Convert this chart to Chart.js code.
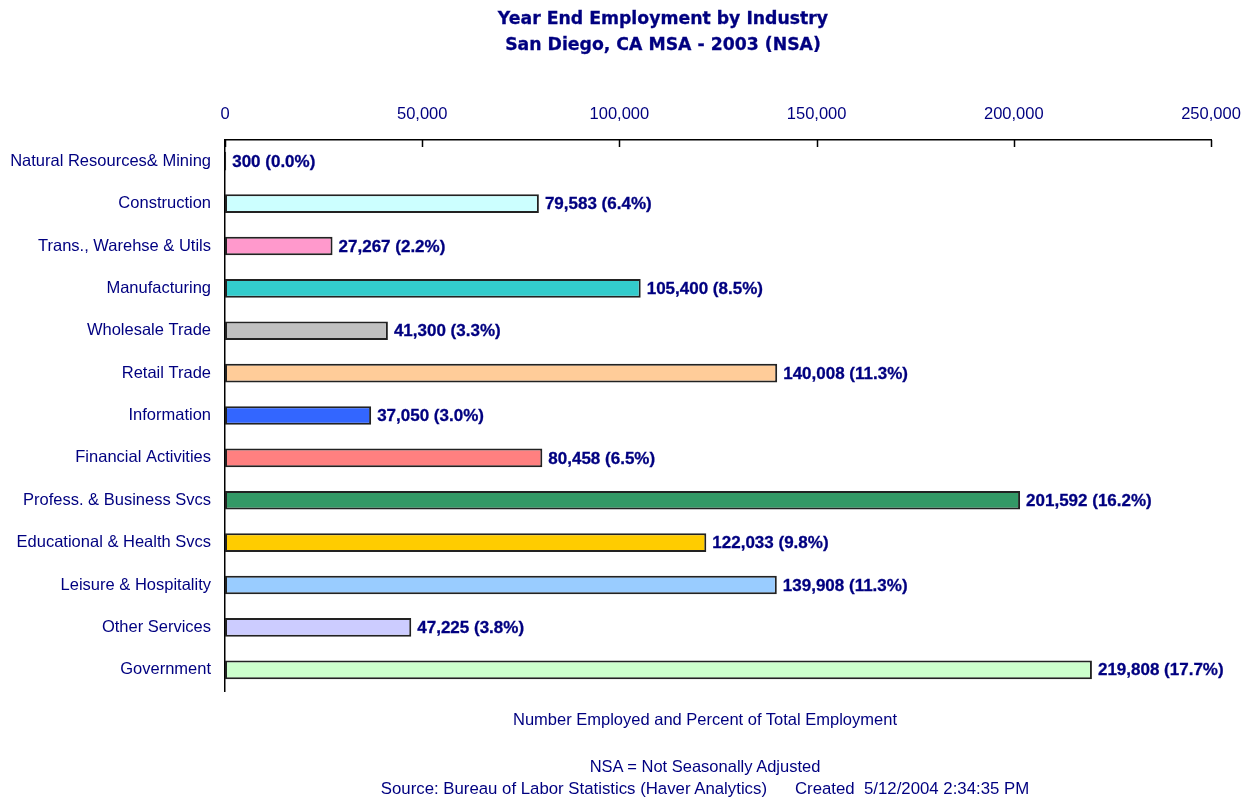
<!DOCTYPE html>
<html>
<head>
<meta charset="utf-8">
<script src="https://cdn.jsdelivr.net/npm/chart.js@4.4.1/dist/chart.umd.min.js"></script>
<style>
  body { margin: 0; background: #fff; }
  #wrap { position: relative; width: 1254px; height: 799px; }
  #chart { position: absolute; left: 0; top: 0; }
  .txt { position: absolute; left: 78px; width: 1254px; text-align: center; color: #000080;
         font-family: "Liberation Sans", Arial, sans-serif; font-size: 16.5px; white-space: pre; }
  .title { font-family: "DejaVu Sans", sans-serif; font-weight: bold; font-size: 17.3px; left: 36px;
           -webkit-text-stroke: 0.3px #000080; }
</style>
</head>
<body>
<div id="wrap">
  <canvas id="chart" width="1254" height="799"></canvas>
  <div class="txt title" style="top:8px">Year End Employment by Industry</div>
  <div class="txt title" style="top:34px">San Diego, CA MSA - 2003 (NSA)</div>
  <div class="txt" style="top:710px">Number Employed and Percent of Total Employment</div>
  <div class="txt" style="top:757px">NSA = Not Seasonally Adjusted</div>
  <div class="txt" style="top:779px; font-size:16.8px">Source: Bureau of Labor Statistics (Haver Analytics)      Created  5/12/2004 2:34:35 PM</div>
</div>
<script>
var industries = ['Natural Resources& Mining', 'Construction', 'Trans., Warehse & Utils', 'Manufacturing',
    'Wholesale Trade', 'Retail Trade', 'Information', 'Financial Activities', 'Profess. & Business Svcs',
    'Educational & Health Svcs', 'Leisure & Hospitality', 'Other Services', 'Government'];
var employed = [300, 79583, 27267, 105400, 41300, 140008, 37050, 80458, 201592, 122033, 139908, 47225, 219808];
var percents = [0.0, 6.4, 2.2, 8.5, 3.3, 11.3, 3.0, 6.5, 16.2, 9.8, 11.3, 3.8, 17.7];
var barColors = ['#9999FF', '#CCFFFF', '#FF99CC', '#33CCCC', '#C0C0C0', '#FFCC99', '#3366FF',
    '#FF8080', '#339966', '#FFCC00', '#99CCFF', '#CCCCFF', '#CCFFCC'];
var xTicks = [0, 50000, 100000, 150000, 200000, 250000];

var navy = '#000080';
var fontName = '"Liberation Sans", Arial, sans-serif';

function fmt(n) {
    return n.toLocaleString('en-US');
}

// value labels at the end of each bar
var barLabels = {
    id: 'barLabels',
    afterDatasetsDraw: function(chart) {
        var ctx = chart.ctx;
        var meta = chart.getDatasetMeta(0);
        ctx.save();
        ctx.font = 'bold 17px ' + fontName;
        ctx.fillStyle = navy;
        ctx.strokeStyle = navy;
        ctx.lineWidth = 0.3;
        ctx.textBaseline = 'middle';
        ctx.textAlign = 'left';
        meta.data.forEach(function(bar, i) {
            var t = fmt(employed[i]) + ' (' + percents[i].toFixed(1) + '%)';
            ctx.fillText(t, bar.x + 6, bar.y + 1);
            ctx.strokeText(t, bar.x + 6, bar.y + 1);
        });
        ctx.restore();
    }
};

// tick marks pointing down into the plot from the top axis
var innerTicks = {
    id: 'innerTicks',
    afterDraw: function(chart) {
        var ctx = chart.ctx;
        var sx = chart.scales.x;
        var top = chart.chartArea.top;
        ctx.save();
        ctx.strokeStyle = '#000';
        ctx.lineWidth = 1.5;
        xTicks.forEach(function(v) {
            var px = Math.round(sx.getPixelForValue(v)) + 0.5;
            ctx.beginPath();
            ctx.moveTo(px, top);
            ctx.lineTo(px, top + 7);
            ctx.stroke();
        });
        ctx.restore();
    }
};

new Chart(document.getElementById('chart'), {
    type: 'bar',
    data: {
        labels: industries,
        datasets: [{
            data: employed,
            backgroundColor: barColors,
            borderColor: '#222222',
            borderWidth: 2,
            borderSkipped: false,
            categoryPercentage: 1,
            barPercentage: 0.44
        }]
    },
    options: {
        indexAxis: 'y',
        responsive: false,
        animation: false,
        devicePixelRatio: 1,
        layout: { padding: { top: 100, bottom: 108, left: 0, right: 43 } },
        plugins: {
            legend: { display: false },
            tooltip: { enabled: false }
        },
        scales: {
            x: {
                position: 'top',
                min: 0,
                max: 250000,
                afterFit: function(s) {
                    s.height = 40;
                    s.paddingLeft = 0;
                    s.paddingRight = 0;
                },
                afterBuildTicks: function(s) { s.ticks = xTicks.map(function(v) { return { value: v }; }); },
                grid: { display: false, drawTicks: false },
                border: { display: true, color: '#000', width: 1.5 },
                ticks: {
                    padding: 16,
                    color: navy,
                    font: { family: fontName, size: 16.5 },
                    callback: function(v) { return fmt(v); }
                }
            },
            y: {
                afterFit: function(s) { s.width = 225; },
                grid: { display: false, drawTicks: false },
                border: { display: true, color: '#000', width: 1.5 },
                ticks: {
                    padding: 14,
                    color: navy,
                    font: { family: fontName, size: 16.5 }
                }
            }
        }
    },
    plugins: [barLabels, innerTicks]
});
</script>
</body>
</html>
